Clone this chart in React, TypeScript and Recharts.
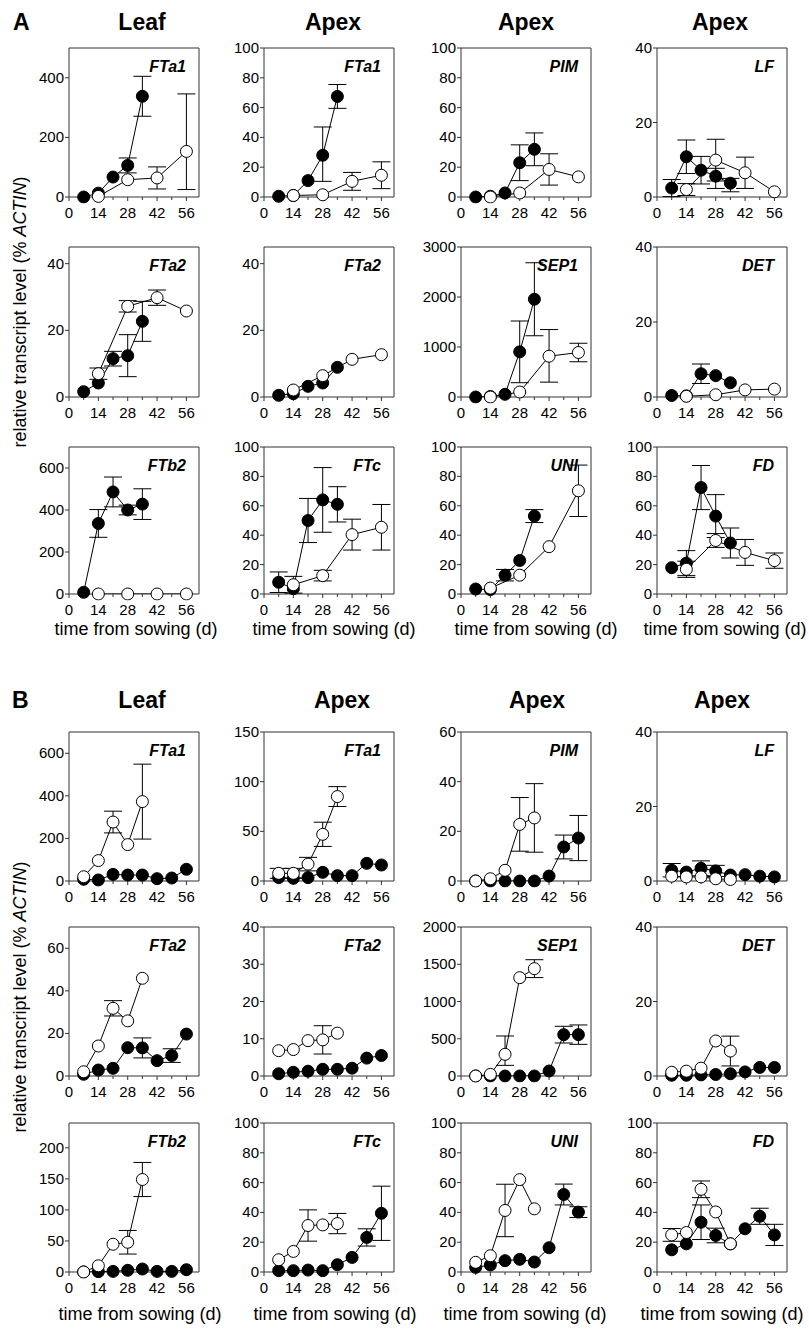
import React from 'react';
import { LineChart, Line, XAxis, YAxis, ErrorBar, ReferenceArea } from 'recharts';

type Err = number | [number, number];

const FONT = '"Liberation Sans", Arial, Helvetica, sans-serif';

// sampling days
const daysFilledA = [7, 14, 21, 28, 35];
const daysOpenA = [14, 28, 42, 56];
const daysFilledB = [7, 14, 21, 28, 35, 42, 49, 56];
const daysOpenB = [7, 14, 21, 28, 35];
const dayTicks = [0, 7, 14, 21, 28, 35, 42, 49, 56];
const dayLabels = [0, 14, 28, 42, 56];

// y tick sets
const ticks40 = [0, 20, 40];
const ticks100 = [0, 20, 40, 60, 80, 100];
const ticks400 = [0, 200, 400];
const ticks600 = [0, 200, 400, 600];
const ticks3000 = [0, 1000, 2000, 3000];
const ticks150 = [0, 50, 100, 150];
const ticks60 = [0, 20, 40, 60];
const ticks10s = [0, 10, 20, 30, 40];
const ticks2000 = [0, 500, 1000, 1500, 2000];
const ticks200 = [0, 50, 100, 150, 200];

// ---- A ----
const aLeafFTa1F = [0, 13, 67, 106, 338];
const aLeafFTa1FErr: Err[] = [0, 0, 0, 25, 67];
const aLeafFTa1O = [2, 58, 64, 153];
const aLeafFTa1OErr: Err[] = [0, 0, 37, [128, 193]];

const aApexFTa1F = [0.5, 1, 11, 28, 67.5];
const aApexFTa1FErr: Err[] = [0, 0, 0, [17.5, 19], 8];
const aApexFTa1O = [1, 1.5, 10.5, 14.6];
const aApexFTa1OErr: Err[] = [0, 0, 6, 9];

const aPimF = [0, 0.5, 2.7, 23, 32];
const aPimFErr: Err[] = [0, 0, 0, 12, 11];
const aPimO = [0, 2.7, 18.5, 13.5];
const aPimOErr: Err[] = [0, 0, 10.5, 0];

const aLfF = [2.4, 10.8, 7.2, 5.6, 3.7];
const aLfFErr: Err[] = [2.3, 4.5, 3.7, [3.3, 2.1], [2.3, 1.3]];
const aLfO = [2, 9.9, 6.5, 1.4];
const aLfOErr: Err[] = [1.6, 5.6, 4.2, 0];

const aLeafFTa2F = [1.6, 4.2, 11.5, 12.4, 22.7];
const aLeafFTa2FErr: Err[] = [0, 0, 2.2, 6.3, 6];
const aLeafFTa2O = [7, 27.2, 29.8, 25.8];
const aLeafFTa2OErr: Err[] = [1.7, 1.7, 2.3, 0];

const aApexFTa2F = [0.5, 1, 3.2, 4.2, 8.9];
const aApexFTa2O = [2.1, 6.4, 11.3, 12.7];

const aSep1F = [0, 10, 54, 903, 1955];
const aSep1FErr: Err[] = [0, 0, 0, 617, 730];
const aSep1O = [0, 100, 816, 890];
const aSep1OErr: Err[] = [0, 0, [519, 533], 185];

const aDetF = [0.4, 0.3, 6.2, 5.7, 3.8];
const aDetFErr: Err[] = [0, 0, 2.6, 0, 0];
const aDetO = [0.2, 0.6, 1.9, 2.1];

const aLeafFTb2F = [8, 336, 486, 400, 428];
const aLeafFTb2FErr: Err[] = [0, 66, 71, 23, 73];
const aLeafFTb2O = [0, 0, 0, 0];

const aFTcF = [8, 3.6, 50, 64, 61];
const aFTcFErr: Err[] = [7, 0, 15, 22, 12];
const aFTcO = [6.3, 12.5, 40.4, 45.4];
const aFTcOErr: Err[] = [5.7, 3.6, 10.5, 15.5];

const aUniF = [3.4, 3, 12.8, 22.8, 53];
const aUniFErr: Err[] = [0, 0, 3.9, 0, 4.4];
const aUniO = [4, 12.8, 32.2, 70.2];
const aUniOErr: Err[] = [0, 0, 0, 17.5];

const aFdF = [17.9, 21, 72.4, 53, 34.7];
const aFdFErr: Err[] = [0, 8.5, 15, 14.6, 10.2];
const aFdO = [16.8, 36.4, 28.3, 22.7];
const aFdOErr: Err[] = [5.5, 4.7, 8.8, 5.2];

// ---- B ----
const bLeafFTa1O = [20, 96, 277, 171, 373];
const bLeafFTa1OErr: Err[] = [0, 0, 51, 0, 176];
const bLeafFTa1F = [8, 5, 31, 28, 28, 11, 14, 55];

const bApexFTa1O = [7.7, 7.7, 17, 47, 85];
const bApexFTa1OErr: Err[] = [5, 5, 6.8, 12.2, 10];
const bApexFTa1F = [3.4, 2.7, 3.4, 8.7, 5.4, 5.4, 17.8, 16.1];

const bPimO = [0, 0.9, 4.3, 22.8, 25.4];
const bPimOErr: Err[] = [0, 0, 0, 10.8, 13.8];
const bPimF = [0, 0, 0, 0, 0, 2, 13.7, 17.3];
const bPimFErr: Err[] = [0, 0, 0, 0, 0, 0, 4.8, 9.1];

const bLfO = [1.3, 1.1, 1.1, 0.6, 0.4];
const bLfF = [2.9, 2.4, 3.4, 2.7, 1.6, 1.7, 1.3, 1.1];
const bLfFErr: Err[] = [1.8, 0, 2, 1.5, 0, 0, 0, 0];

const bLeafFTa2O = [2, 14.1, 31.8, 25.9, 45.9];
const bLeafFTa2OErr: Err[] = [0, 0, 3.6, 0, 0];
const bLeafFTa2F = [0.8, 2.8, 3.6, 13.3, 13.2, 7.2, 9.6, 19.7];
const bLeafFTa2FErr: Err[] = [0, 0, 0, 0, 4.7, 0, 3.2, 0];

const bApexFTa2O = [6.8, 7.1, 9.5, 9.7, 11.5];
const bApexFTa2OErr: Err[] = [0, 0, 0, 3.8, 0];
const bApexFTa2F = [0.6, 1, 1.3, 1.8, 1.8, 2.1, 4.8, 5.5];

const bSep1O = [0, 22, 291, 1320, 1441];
const bSep1OErr: Err[] = [0, 0, [148, 246], 0, 120];
const bSep1F = [0, 0, 0, 0, 0, 67, 555, 555];
const bSep1FErr: Err[] = [0, 0, 0, 0, 0, 0, 112, 130];

const bDetO = [1, 1.3, 2.1, 9.4, 6.7];
const bDetOErr: Err[] = [0, 0, 0, 0, 4];
const bDetF = [0.2, 0.2, 0.3, 0.4, 0.6, 1.1, 2.3, 2.3];

const bLeafFTb2O = [0, 10, 44.7, 47.9, 149];
const bLeafFTb2OErr: Err[] = [0, 0, 0, 19, 27.5];
const bLeafFTb2F = [0, 0.5, 1, 2.7, 4.8, 1, 1, 3.7];

const bFTcO = [8.2, 13.8, 31.2, 31.6, 32.5];
const bFTcOErr: Err[] = [0, 0, 10.5, 0, 6.8];
const bFTcF = [0.9, 0.9, 1.3, 0.9, 4.9, 9.8, 23.2, 39.4];
const bFTcFErr: Err[] = [0, 0, 0, 0, 0, 0, 5.8, 18.2];

const bUniO = [6.5, 10.9, 41.3, 62, 42.4];
const bUniOErr: Err[] = [0, 0, 17.6, 0, 0];
const bUniF = [3.1, 4.7, 7.6, 8.5, 6.7, 16.3, 52, 40.2];
const bUniFErr: Err[] = [0, 0, 0, 0, 0, 0, 7, 3.6];

const bFdO = [24.9, 26.5, 55.5, 40.3, 18.9];
const bFdOErr: Err[] = [4.3, 0, 5.6, 0, 0];
const bFdF = [14.9, 18.9, 33.4, 24.5, 18.9, 29, 37.4, 24.9];
const bFdFErr: Err[] = [0, 0, 11.6, 4.9, 0, 0, 5.4, 7.1];

type Pt = { day: number; v: number; e: Err };

function series(days: number[], vals: number[], errs?: Err[]): Pt[] {
  return days.map((d, i) => ({ day: d, v: vals[i], e: errs ? errs[i] : 0 }));
}

// only the points that really carry an error bar
function withErr(pts: Pt[]) {
  return pts.filter((p) => (Array.isArray(p.e) ? p.e[0] + p.e[1] > 0 : p.e > 0));
}

// layout
const colLeft = [69, 264, 461, 657];
const rowTop = [48, 247, 447, 732, 927, 1123];
const rowH = [149, 150, 147, 149, 149, 149];
const PW = 130;
const XMAX = 62;

const panels = [
  { r: 0, c: 0, gene: 'FTa1', yMax: 500, yTicks: ticks400, filled: series(daysFilledA, aLeafFTa1F, aLeafFTa1FErr), open: series(daysOpenA, aLeafFTa1O, aLeafFTa1OErr) },
  { r: 0, c: 1, gene: 'FTa1', yMax: 100, yTicks: ticks100, filled: series(daysFilledA, aApexFTa1F, aApexFTa1FErr), open: series(daysOpenA, aApexFTa1O, aApexFTa1OErr) },
  { r: 0, c: 2, gene: 'PIM', yMax: 100, yTicks: ticks100, filled: series(daysFilledA, aPimF, aPimFErr), open: series(daysOpenA, aPimO, aPimOErr) },
  { r: 0, c: 3, gene: 'LF', yMax: 40, yTicks: ticks40, filled: series(daysFilledA, aLfF, aLfFErr), open: series(daysOpenA, aLfO, aLfOErr) },
  { r: 1, c: 0, gene: 'FTa2', yMax: 45, yTicks: ticks40, filled: series(daysFilledA, aLeafFTa2F, aLeafFTa2FErr), open: series(daysOpenA, aLeafFTa2O, aLeafFTa2OErr) },
  { r: 1, c: 1, gene: 'FTa2', yMax: 45, yTicks: ticks40, filled: series(daysFilledA, aApexFTa2F), open: series(daysOpenA, aApexFTa2O) },
  { r: 1, c: 2, gene: 'SEP1', yMax: 3000, yTicks: ticks3000, filled: series(daysFilledA, aSep1F, aSep1FErr), open: series(daysOpenA, aSep1O, aSep1OErr) },
  { r: 1, c: 3, gene: 'DET', yMax: 40, yTicks: ticks40, filled: series(daysFilledA, aDetF, aDetFErr), open: series(daysOpenA, aDetO) },
  { r: 2, c: 0, gene: 'FTb2', yMax: 700, yTicks: ticks600, filled: series(daysFilledA, aLeafFTb2F, aLeafFTb2FErr), open: series(daysOpenA, aLeafFTb2O) },
  { r: 2, c: 1, gene: 'FTc', yMax: 100, yTicks: ticks100, filled: series(daysFilledA, aFTcF, aFTcFErr), open: series(daysOpenA, aFTcO, aFTcOErr) },
  { r: 2, c: 2, gene: 'UNI', yMax: 100, yTicks: ticks100, filled: series(daysFilledA, aUniF, aUniFErr), open: series(daysOpenA, aUniO, aUniOErr) },
  { r: 2, c: 3, gene: 'FD', yMax: 100, yTicks: ticks100, filled: series(daysFilledA, aFdF, aFdFErr), open: series(daysOpenA, aFdO, aFdOErr) },
  { r: 3, c: 0, gene: 'FTa1', yMax: 700, yTicks: ticks600, filled: series(daysFilledB, bLeafFTa1F), open: series(daysOpenB, bLeafFTa1O, bLeafFTa1OErr) },
  { r: 3, c: 1, gene: 'FTa1', yMax: 150, yTicks: ticks150, filled: series(daysFilledB, bApexFTa1F), open: series(daysOpenB, bApexFTa1O, bApexFTa1OErr) },
  { r: 3, c: 2, gene: 'PIM', yMax: 60, yTicks: ticks60, filled: series(daysFilledB, bPimF, bPimFErr), open: series(daysOpenB, bPimO, bPimOErr) },
  { r: 3, c: 3, gene: 'LF', yMax: 40, yTicks: ticks40, filled: series(daysFilledB, bLfF, bLfFErr), open: series(daysOpenB, bLfO) },
  { r: 4, c: 0, gene: 'FTa2', yMax: 70, yTicks: ticks60, filled: series(daysFilledB, bLeafFTa2F, bLeafFTa2FErr), open: series(daysOpenB, bLeafFTa2O, bLeafFTa2OErr) },
  { r: 4, c: 1, gene: 'FTa2', yMax: 40, yTicks: ticks10s, filled: series(daysFilledB, bApexFTa2F), open: series(daysOpenB, bApexFTa2O, bApexFTa2OErr) },
  { r: 4, c: 2, gene: 'SEP1', yMax: 2000, yTicks: ticks2000, filled: series(daysFilledB, bSep1F, bSep1FErr), open: series(daysOpenB, bSep1O, bSep1OErr) },
  { r: 4, c: 3, gene: 'DET', yMax: 40, yTicks: ticks40, filled: series(daysFilledB, bDetF), open: series(daysOpenB, bDetO, bDetOErr) },
  { r: 5, c: 0, gene: 'FTb2', yMax: 240, yTicks: ticks200, filled: series(daysFilledB, bLeafFTb2F), open: series(daysOpenB, bLeafFTb2O, bLeafFTb2OErr) },
  { r: 5, c: 1, gene: 'FTc', yMax: 100, yTicks: ticks100, filled: series(daysFilledB, bFTcF, bFTcFErr), open: series(daysOpenB, bFTcO, bFTcOErr) },
  { r: 5, c: 2, gene: 'UNI', yMax: 100, yTicks: ticks100, filled: series(daysFilledB, bUniF, bUniFErr), open: series(daysOpenB, bUniO, bUniOErr) },
  { r: 5, c: 3, gene: 'FD', yMax: 100, yTicks: ticks100, filled: series(daysFilledB, bFdF, bFdFErr), open: series(daysOpenB, bFdO, bFdOErr) },
];

const AXIS = '#333';

function XTick(props: any) {
  const { x, y, payload } = props;
  const major = dayLabels.includes(payload.value);
  return (
    <g>
      <line x1={x} x2={x} y1={y} y2={y + (major ? 4 : 3)} stroke={AXIS} strokeWidth={1} />
      {major && (
        <text x={x} y={y + 21} textAnchor="middle" fontSize={15} fontFamily={FONT} fill="#000">
          {payload.value}
        </text>
      )}
    </g>
  );
}

function YTick(props: any) {
  const { x, y, payload } = props;
  return (
    <g>
      <line x1={x - 4} x2={x} y1={y} y2={y} stroke={AXIS} strokeWidth={1} />
      <text x={x - 5} y={y + 5} textAnchor="end" fontSize={15} fontFamily={FONT} fill="#000">
        {payload.value}
      </text>
    </g>
  );
}

function Axes({ p, labels }: { p: (typeof panels)[number]; labels: boolean }) {
  return [
    <XAxis
      key="x"
      type="number"
      dataKey="day"
      domain={[0, XMAX]}
      ticks={dayTicks}
      interval={0}
      allowDataOverflow
      axisLine={false}
      tickSize={0}
      tickMargin={0}
      tick={labels ? XTick : false}
      height={30}
    />,
    <YAxis
      key="y"
      type="number"
      domain={[0, p.yMax]}
      ticks={p.yTicks}
      interval={0}
      allowDataOverflow
      axisLine={false}
      tickSize={0}
      tickMargin={0}
      tick={labels ? YTick : false}
      width={50}
    />,
  ];
}

function Panel({ p }: { p: (typeof panels)[number] }) {
  const left = colLeft[p.c];
  const top = rowTop[p.r];
  const h = rowH[p.r];
  const W = PW + 60;
  const H = h + 40;
  const margin = { top: 10, right: 10, bottom: 0, left: 0 };
  const base = { dataKey: 'v', activeDot: false, isAnimationActive: false };
  const layer: React.CSSProperties = { position: 'absolute', left: 0, top: 0 };
  return (
    <div style={{ position: 'absolute', left: left - 50, top: top - 10, width: W, height: H }}>
      {/* bottom layer: axes, frame and error bars */}
      <div style={layer}>
        <LineChart width={W} height={H} margin={margin}>
          {Axes({ p, labels: true })}
          <ReferenceArea x1={0} x2={XMAX} y1={0} y2={p.yMax} fill="none" stroke={AXIS} strokeWidth={1} />
          <Line {...base} data={withErr(p.filled)} stroke="none" dot={false}>
            <ErrorBar dataKey="e" direction="y" width={9} stroke="#000" strokeWidth={1} isAnimationActive={false} />
          </Line>
          <Line {...base} data={withErr(p.open)} stroke="none" dot={false}>
            <ErrorBar dataKey="e" direction="y" width={9} stroke="#000" strokeWidth={1} isAnimationActive={false} />
          </Line>
        </LineChart>
      </div>
      {/* top layer: lines and markers */}
      <div style={layer}>
        <LineChart width={W} height={H} margin={margin}>
          {Axes({ p, labels: false })}
          <Line
            {...base}
            data={p.filled}
            stroke="#000"
            strokeWidth={1}
            dot={{ r: 6, fill: '#000', stroke: '#000', strokeWidth: 1, clipDot: false }}
          />
          <Line
            {...base}
            data={p.open}
            stroke="#000"
            strokeWidth={1}
            dot={{ r: 6, fill: '#fff', stroke: '#000', strokeWidth: 1, clipDot: false }}
          />
        </LineChart>
      </div>
    </div>
  );
}

const colTitles = ['Leaf', 'Apex', 'Apex', 'Apex'];
const titleXA = [142, 333, 526, 720];
const titleXB = [142, 342, 537, 722];
const xLabelXA = [136, 334, 536, 725];
const xLabelXB = [140, 335, 525, 722];

export default function App() {
  return (
    <div style={{ position: 'absolute', left: 0, top: 0, width: 809, height: 1335, background: '#fff' }}>
      {panels.map((p, i) => (
        <Panel key={i} p={p} />
      ))}
      <svg
        width={809}
        height={1335}
        style={{ position: 'absolute', left: 0, top: 0, pointerEvents: 'none' }}
        fontFamily={FONT}
      >
        <text x={13} y={30} fontSize={23} fontWeight="bold">A</text>
        <text x={12} y={708} fontSize={23} fontWeight="bold">B</text>
        {colTitles.map((t, i) => (
          <text key={'ta' + i} x={titleXA[i]} y={30} fontSize={23} fontWeight="bold" textAnchor="middle">{t}</text>
        ))}
        {colTitles.map((t, i) => (
          <text key={'tb' + i} x={titleXB[i]} y={708} fontSize={23} fontWeight="bold" textAnchor="middle">{t}</text>
        ))}
        {xLabelXA.map((x, i) => (
          <text key={'xa' + i} x={x} y={635} fontSize={18} textAnchor="middle">time from sowing (d)</text>
        ))}
        {xLabelXB.map((x, i) => (
          <text key={'xb' + i} x={x} y={1320} fontSize={18} textAnchor="middle">time from sowing (d)</text>
        ))}
        {[312, 997].map((cy, i) => (
          <text key={'yl' + i} x={26} y={cy} fontSize={18} textAnchor="middle" transform={`rotate(-90 26 ${cy})`}>
            relative transcript level (% <tspan fontStyle="italic">ACTIN</tspan>)
          </text>
        ))}
        {panels.map((p, i) => (
          <text
            key={'g' + i}
            x={colLeft[p.c] + PW - 13}
            y={rowTop[p.r] + 24}
            fontSize={16}
            fontWeight="bold"
            fontStyle="italic"
            textAnchor="end"
          >
            {p.gene}
          </text>
        ))}
      </svg>
    </div>
  );
}
